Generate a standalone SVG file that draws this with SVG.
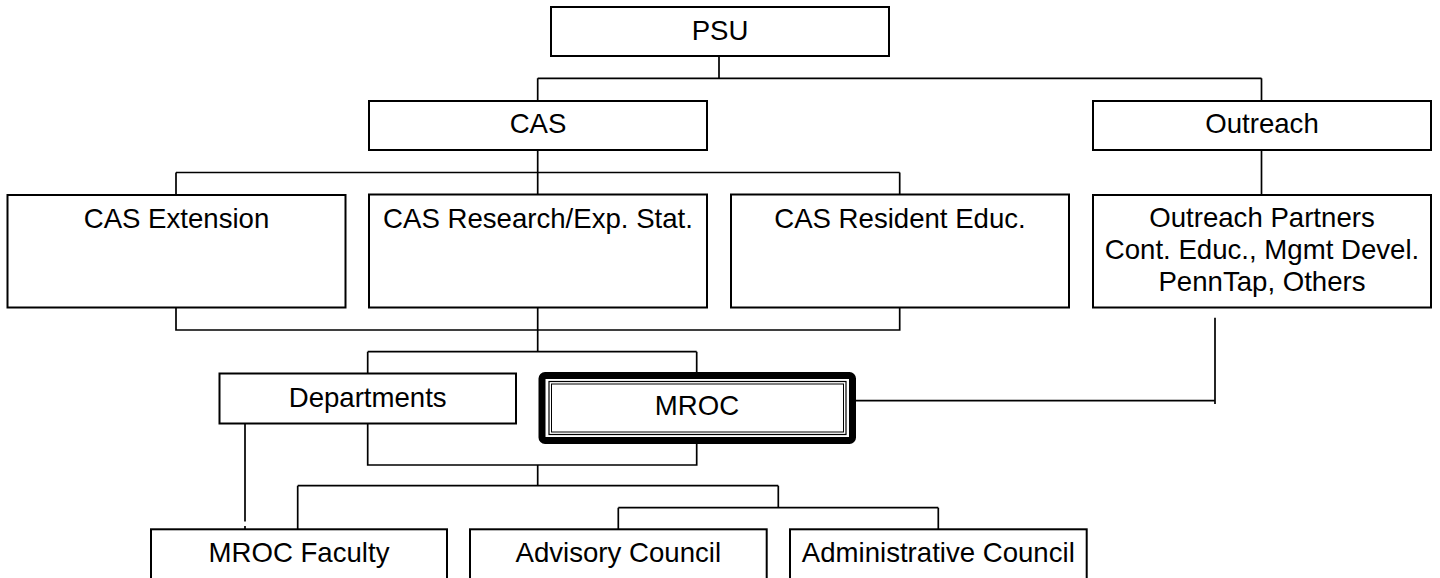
<svg xmlns="http://www.w3.org/2000/svg" width="1440" height="578" viewBox="0 0 1440 578">
<style>
.box{fill:#fff;stroke:#000;stroke-width:2}
.lbl{font-family:"Liberation Sans",Arial,sans-serif;font-size:27.6px;fill:#000;text-anchor:middle}
.conn{fill:none;stroke:#000;stroke-width:1.7}
</style>
<rect width="1440" height="578" fill="#fff"/>
<g id="connectors" class="conn">
<path d="M719 56V78.3M537.7 78.3H1261.5M537.7 78.3V101M1261.5 78.3V101"/>
<path d="M537.7 150V194.5M176 172.5H899.7M176 172.5V195M899.7 172.5V194.5"/>
<path d="M1261.5 150V195"/>
<path d="M176 307.7V330H899.7V307.3M537.7 307.3V351.7"/>
<path d="M367.7 351.7H696.7M367.7 351.7V373.5M696.7 351.7V372"/>
<path d="M856 400.7H1215M1215 317.7V404"/>
<path d="M367.7 423.3V465H696.7V444"/>
<path d="M537.7 465V485.7M297.7 485.7H778.3M297.7 485.7V529.3M778.3 485.7V507.7M618.3 507.7H938.3M618.3 507.7V529.3M938.3 507.7V529.3"/>
<path d="M245 423.3V521.5M245 526V529.3"/>
</g>
<g id="psu"><rect class="box" x="551" y="7" width="338" height="49"/><text class="lbl" x="720" y="40">PSU</text></g>
<g id="cas"><rect class="box" x="369" y="101" width="338" height="49"/><text class="lbl" x="538" y="133.3">CAS</text></g>
<g id="outreach"><rect class="box" x="1093" y="101" width="338" height="49"/><text class="lbl" x="1262" y="133.3">Outreach</text></g>
<g id="cas-extension"><rect class="box" x="7.5" y="195" width="338" height="112.5"/><text class="lbl" x="176.5" y="227.5">CAS Extension</text></g>
<g id="cas-research"><rect class="box" x="369" y="194.5" width="338" height="113"/><text class="lbl" x="538" y="227.5">CAS Research/Exp. Stat.</text></g>
<g id="cas-resident"><rect class="box" x="731" y="194.5" width="338" height="113"/><text class="lbl" x="900" y="227.5">CAS Resident Educ.</text></g>
<g id="outreach-partners"><rect class="box" x="1093" y="195" width="338" height="112.5"/>
<text class="lbl" x="1262" y="226.7">Outreach Partners</text>
<text class="lbl" x="1262" y="259">Cont. Educ., Mgmt Devel.</text>
<text class="lbl" x="1262" y="290.7">PennTap, Others</text></g>
<g id="departments"><rect class="box" x="219.5" y="373.5" width="296.5" height="50"/><text class="lbl" x="367.7" y="407.3">Departments</text></g>
<g id="mroc">
<rect x="542" y="375.5" width="310.5" height="65" rx="3" fill="#fff" stroke="#000" stroke-width="7"/>
<rect x="549" y="381.5" width="297" height="53" fill="none" stroke="#000" stroke-width="1.2"/>
<rect x="551.5" y="384" width="292" height="48" fill="none" stroke="#000" stroke-width="1"/>
<text class="lbl" x="697" y="415">MROC</text></g>
<g id="mroc-faculty"><rect class="box" x="151" y="529.3" width="296" height="60"/><text class="lbl" x="299" y="561.7">MROC Faculty</text></g>
<g id="advisory-council"><rect class="box" x="470" y="529.3" width="296.7" height="60"/><text class="lbl" x="618.3" y="561.7">Advisory Council</text></g>
<g id="administrative-council"><rect class="box" x="790" y="529.3" width="296.7" height="60"/><text class="lbl" x="938.3" y="561.7">Administrative Council</text></g>
</svg>
